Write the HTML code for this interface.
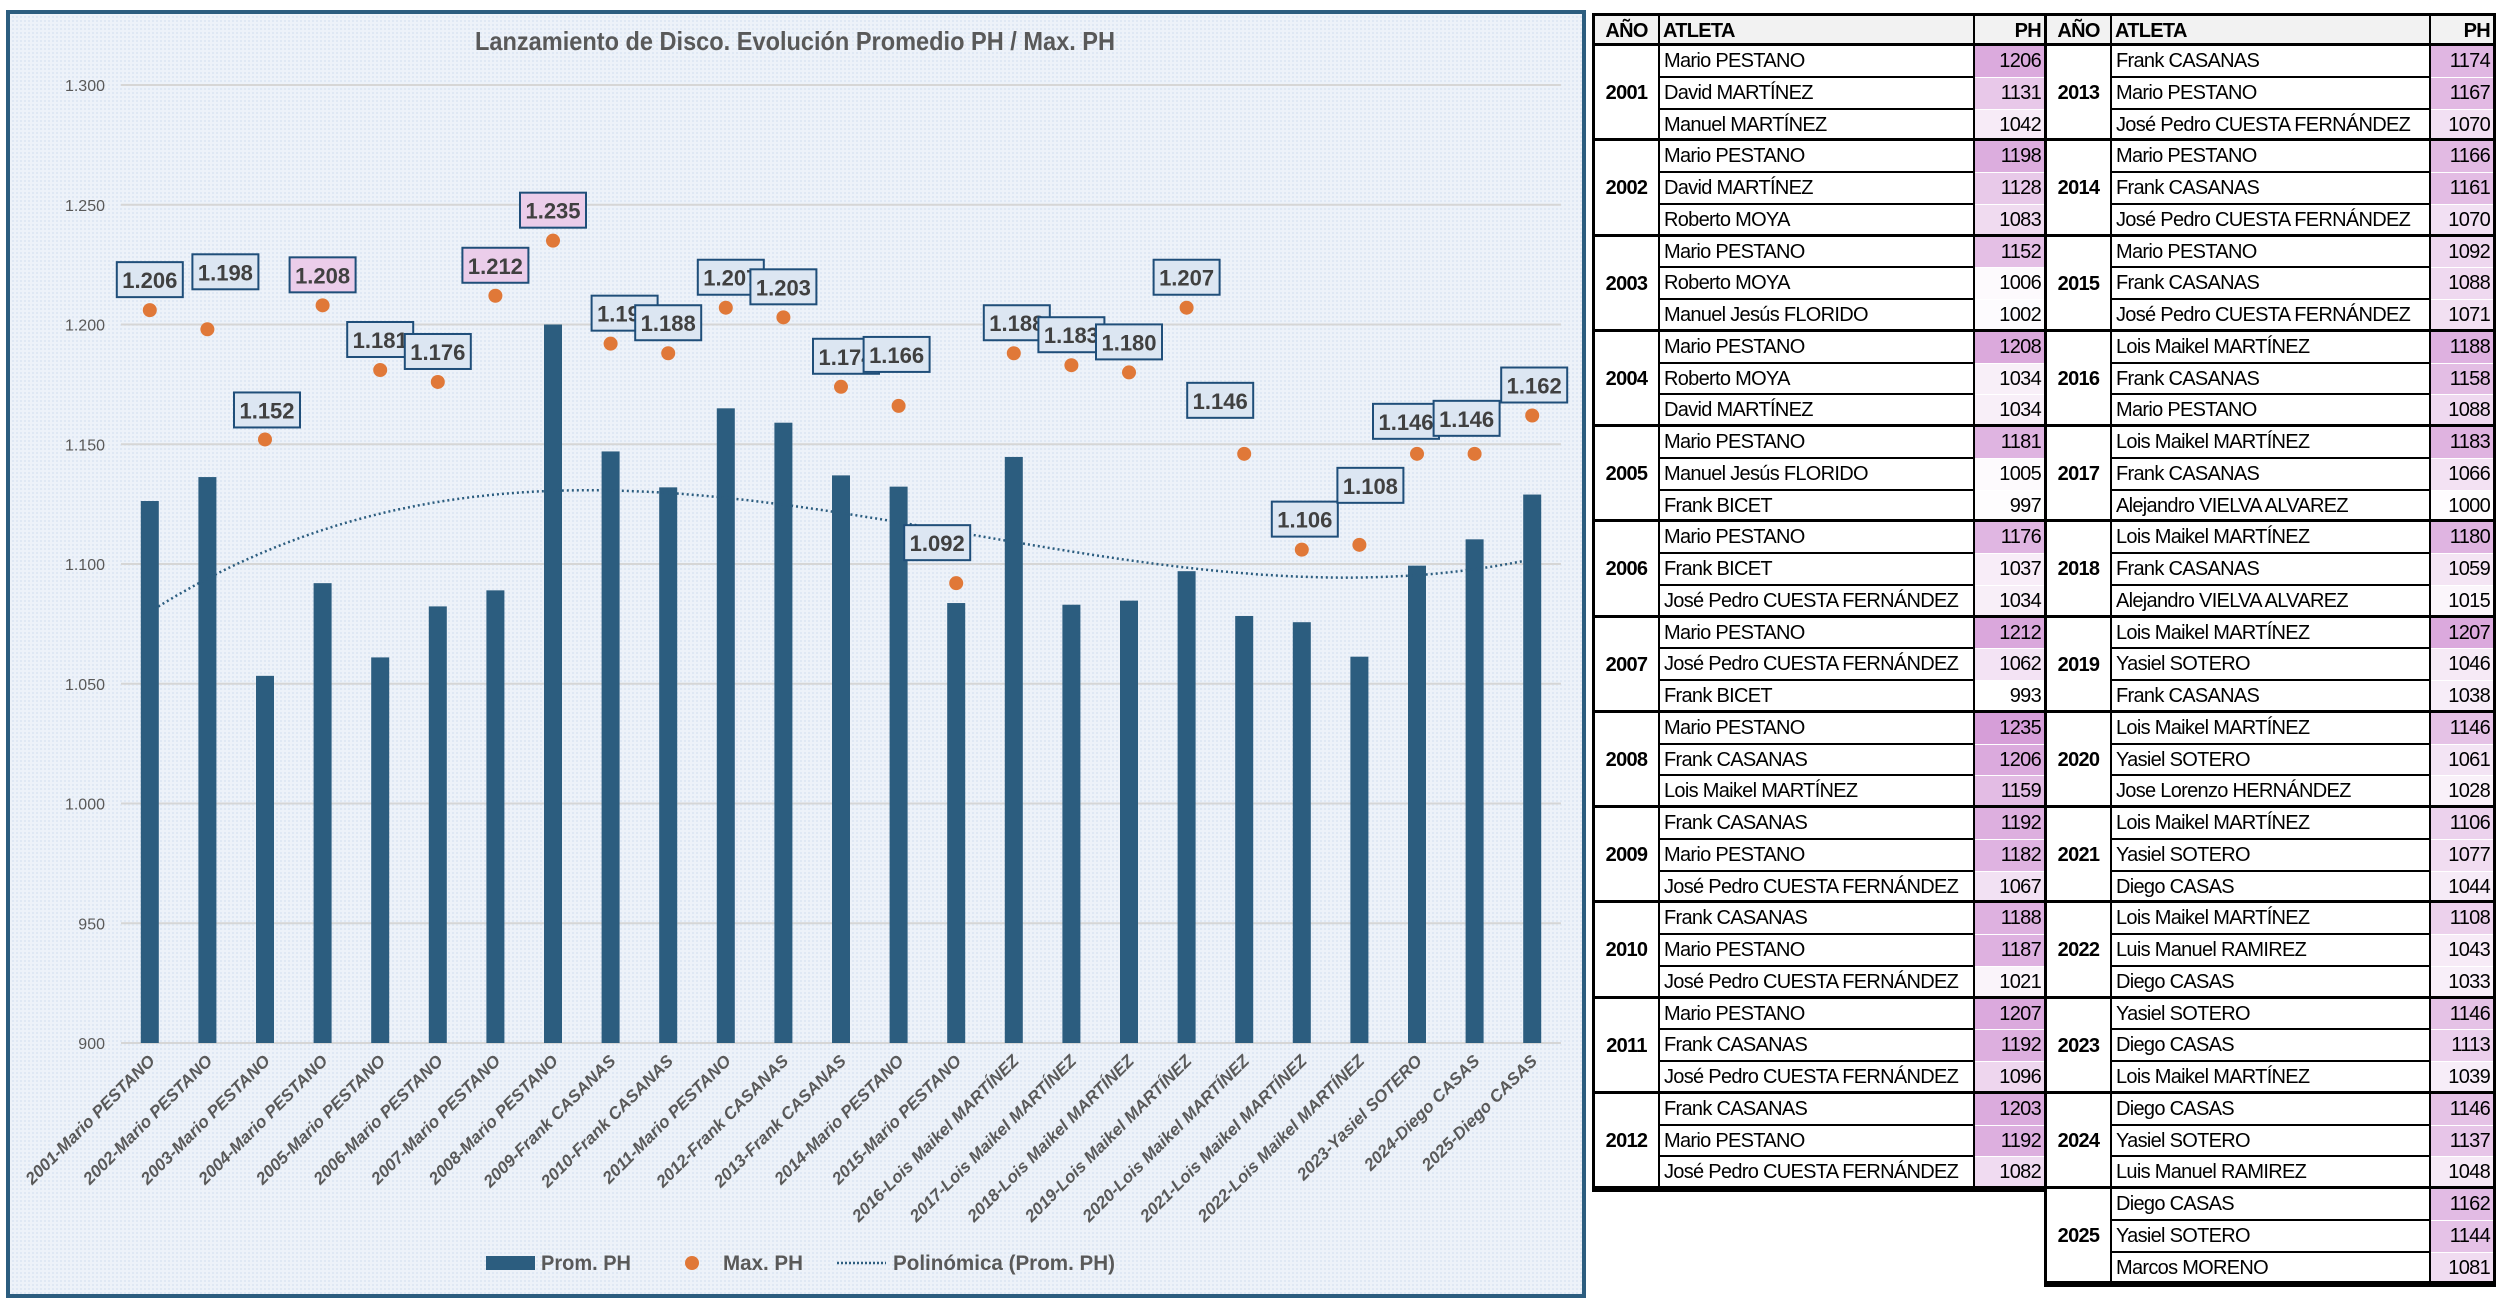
<!DOCTYPE html>
<html><head><meta charset="utf-8">
<style>
body{margin:0;width:2500px;height:1302px;background:#fff;overflow:hidden;position:relative;font-family:"Liberation Sans Narrow","Liberation Sans",sans-serif;}
#chart{position:absolute;left:0;top:0;}
.tbl{position:absolute;border:3px solid #000;box-sizing:border-box;background:#fff;}
.cell{position:absolute;box-sizing:border-box;font-size:20px;letter-spacing:-0.7px;color:#000;line-height:30px;white-space:nowrap;overflow:hidden;}
</style></head><body>
<svg id="chart" width="1600" height="1302">
<defs>
<pattern id="dots" width="4" height="4" patternUnits="userSpaceOnUse"><rect width="4" height="4" fill="#edf2f9"/><rect width="2" height="2" fill="#dfe8f4"/></pattern>
</defs>
<rect x="8" y="12" width="1576" height="1284" fill="url(#dots)" stroke="#2c5d7f" stroke-width="4"/>
<text x="795" y="50" text-anchor="middle" font-size="26" font-weight="bold" fill="#595959" textLength="640" lengthAdjust="spacingAndGlyphs">Lanzamiento de Disco. Evolución Promedio PH / Max. PH</text>
<g id="grid"></g><g id="bars"></g><g id="trend"></g><g id="dotsG"></g><g id="labels"></g><g id="xlab"></g>
<g>
<rect x="486" y="1256" width="49" height="14" fill="#2c5d7f"/>
<text x="541" y="1270" font-size="21" font-weight="bold" fill="#595959" textLength="90" lengthAdjust="spacingAndGlyphs">Prom. PH</text>
<circle cx="692" cy="1263" r="7" fill="#e07838"/>
<text x="723" y="1270" font-size="21" font-weight="bold" fill="#595959" textLength="80" lengthAdjust="spacingAndGlyphs">Max. PH</text>
<line x1="837" y1="1263" x2="886" y2="1263" stroke="#2c5d7f" stroke-width="2.5" stroke-dasharray="2 2"/>
<text x="893" y="1270" font-size="21" font-weight="bold" fill="#595959" textLength="222" lengthAdjust="spacingAndGlyphs">Polinómica (Prom. PH)</text>
</g>
</svg>
<div id="tables"></div>
<script>
const years=[2001,2002,2003,2004,2005,2006,2007,2008,2009,2010,2011,2012,2013,2014,2015,2016,2017,2018,2019,2020,2021,2022,2023,2024,2025];
const categories=["2001-Mario PESTANO","2002-Mario PESTANO","2003-Mario PESTANO","2004-Mario PESTANO","2005-Mario PESTANO","2006-Mario PESTANO","2007-Mario PESTANO","2008-Mario PESTANO","2009-Frank CASANAS","2010-Frank CASANAS","2011-Mario PESTANO","2012-Frank CASANAS","2013-Frank CASANAS","2014-Mario PESTANO","2015-Mario PESTANO","2016-Lois Maikel MARTÍNEZ","2017-Lois Maikel MARTÍNEZ","2018-Lois Maikel MARTÍNEZ","2019-Lois Maikel MARTÍNEZ","2020-Lois Maikel MARTÍNEZ","2021-Lois Maikel MARTÍNEZ","2022-Lois Maikel MARTÍNEZ","2023-Yasiel SOTERO","2024-Diego CASAS","2025-Diego CASAS"];
const athletes=[["Mario PESTANO","David MARTÍNEZ","Manuel MARTÍNEZ"],["Mario PESTANO","David MARTÍNEZ","Roberto MOYA"],["Mario PESTANO","Roberto MOYA","Manuel Jesús FLORIDO"],["Mario PESTANO","Roberto MOYA","David MARTÍNEZ"],["Mario PESTANO","Manuel Jesús FLORIDO","Frank BICET"],["Mario PESTANO","Frank BICET","José Pedro CUESTA FERNÁNDEZ"],["Mario PESTANO","José Pedro CUESTA FERNÁNDEZ","Frank BICET"],["Mario PESTANO","Frank CASANAS","Lois Maikel MARTÍNEZ"],["Frank CASANAS","Mario PESTANO","José Pedro CUESTA FERNÁNDEZ"],["Frank CASANAS","Mario PESTANO","José Pedro CUESTA FERNÁNDEZ"],["Mario PESTANO","Frank CASANAS","José Pedro CUESTA FERNÁNDEZ"],["Frank CASANAS","Mario PESTANO","José Pedro CUESTA FERNÁNDEZ"],["Frank CASANAS","Mario PESTANO","José Pedro CUESTA FERNÁNDEZ"],["Mario PESTANO","Frank CASANAS","José Pedro CUESTA FERNÁNDEZ"],["Mario PESTANO","Frank CASANAS","José Pedro CUESTA FERNÁNDEZ"],["Lois Maikel MARTÍNEZ","Frank CASANAS","Mario PESTANO"],["Lois Maikel MARTÍNEZ","Frank CASANAS","Alejandro VIELVA ALVAREZ"],["Lois Maikel MARTÍNEZ","Frank CASANAS","Alejandro VIELVA ALVAREZ"],["Lois Maikel MARTÍNEZ","Yasiel SOTERO","Frank CASANAS"],["Lois Maikel MARTÍNEZ","Yasiel SOTERO","Jose Lorenzo HERNÁNDEZ"],["Lois Maikel MARTÍNEZ","Yasiel SOTERO","Diego CASAS"],["Lois Maikel MARTÍNEZ","Luis Manuel RAMIREZ","Diego CASAS"],["Yasiel SOTERO","Diego CASAS","Lois Maikel MARTÍNEZ"],["Diego CASAS","Yasiel SOTERO","Luis Manuel RAMIREZ"],["Diego CASAS","Yasiel SOTERO","Marcos MORENO"]];
const marks=[[1206,1131,1042],[1198,1128,1083],[1152,1006,1002],[1208,1034,1034],[1181,1005,997],[1176,1037,1034],[1212,1062,993],[1235,1206,1159],[1192,1182,1067],[1188,1187,1021],[1207,1192,1096],[1203,1192,1082],[1174,1167,1070],[1166,1161,1070],[1092,1088,1071],[1188,1158,1088],[1183,1066,1000],[1180,1059,1015],[1207,1046,1038],[1146,1061,1028],[1106,1077,1044],[1108,1043,1033],[1146,1113,1039],[1146,1137,1048],[1162,1144,1081]];
const promPH=[1126.3,1136.3,1053.3,1092,1061,1082.3,1089,1200,1147,1132,1165,1159,1137,1132.3,1083.7,1144.7,1083,1084.7,1097,1078.3,1075.7,1061.3,1099.3,1110.3,1129];
const maxPH=[1206,1198,1152,1208,1181,1176,1212,1235,1192,1188,1207,1203,1174,1166,1092,1188,1183,1180,1207,1146,1106,1108,1146,1146,1162];
const yTicks=[900,950,1000,1050,1100,1150,1200,1250,1300];
const highlighted=[2004,2007,2008];
// label layout nudges (pixels, layout only)
const lblDX=[0,18,2,0,0,0,0,0,14,0,5,0,5,-2,-19,3,0,0,0,-24,3,11,-11,-8,2];
const lblDY=[-30,-57,-29,-30,-30,-30,-30,-30,-30,-30,-30,-30,-30,-51,-40,-30,-30,-30,-30,-53,-30,-59,-32,-35,-30];

const NS="http://www.w3.org/2000/svg";
const X0=121,X1=1561,Y0=1043,Y1=85,VMIN=900,VMAX=1300;
const step=(X1-X0)/categories.length;
function xs(i){return X0+step*(i+0.5);}
function ys(v){return Y0-(v-VMIN)*(Y0-Y1)/(VMAX-VMIN);}
function fmt(v){const s=String(Math.round(v));return s.length>3?s.slice(0,s.length-3)+"."+s.slice(-3):s;}
function mk(tag,attrs,parent){const e=document.createElementNS(NS,tag);for(const k in attrs)e.setAttribute(k,attrs[k]);parent.appendChild(e);return e;}

const grid=document.getElementById('grid');
yTicks.forEach(t=>{
  const l=mk('line',{x1:X0,x2:X1,y1:ys(t),y2:ys(t),stroke:'#d6d6d6','stroke-width':2},grid);
  
  
  const tx=mk('text',{x:105,y:ys(t)+6,'text-anchor':'end','font-size':16,fill:'#595959'},grid);
  tx.textContent=fmt(t);
  
  
});
const bars=document.getElementById('bars');
promPH.forEach((v,i)=>{
  const r=mk('rect',{x:xs(i)-9,y:ys(v),width:18,height:Y0-ys(v),fill:'#2c5d7f'},bars);
  
  
});
// cubic polynomial trendline fit
(function(){
  const n=promPH.length,deg=3;const A=[],b=[];
  for(let r=0;r<=deg;r++){A.push([]);for(let c=0;c<=deg;c++){let s=0;for(let i=0;i<n;i++)s+=Math.pow(i+1,r+c);A[r].push(s);}let s=0;for(let i=0;i<n;i++)s+=promPH[i]*Math.pow(i+1,r);b.push(s);}
  for(let p=0;p<=deg;p++){for(let r=p+1;r<=deg;r++){const f=A[r][p]/A[p][p];for(let c=p;c<=deg;c++)A[r][c]-=f*A[p][c];b[r]-=f*b[p];}}
  const co=new Array(deg+1).fill(0);
  for(let r=deg;r>=0;r--){let s=b[r];for(let c=r+1;c<=deg;c++)s-=A[r][c]*co[c];co[r]=s/A[r][r];}
  let d="";
  for(let t=0;t<=200;t++){const xi=(n-1)*t/200;const xv=xi+1;let v=0;for(let k=0;k<=deg;k++)v+=co[k]*Math.pow(xv,k);d+=(t?"L":"M")+(X0+step*(xi+0.5)).toFixed(1)+","+ys(v).toFixed(1);}
  const p=mk('path',{d:d,fill:'none',stroke:'#2c5d7f','stroke-width':2.5,'stroke-dasharray':'2 3'},document.getElementById('trend'));
  
  
})();
const dg=document.getElementById('dotsG'),lg=document.getElementById('labels');
maxPH.forEach((v,i)=>{
  const c=mk('circle',{cx:xs(i),cy:ys(v),r:7,fill:'#e07838'},dg);
  
  
});
maxPH.forEach((v,i)=>{
  const cx=xs(i)+lblDX[i],cy=ys(v)+lblDY[i];
  const g=mk('g',{},lg);
  
  
  mk('rect',{x:cx-33,y:cy-18,width:66,height:35,fill:highlighted.includes(years[i])?'#ebcdea':'#dce6f2',stroke:'#1f4e79','stroke-width':2},g);
  const t=mk('text',{x:cx,y:cy+8,'text-anchor':'middle','font-size':22,'font-weight':'bold',fill:'#404040'},g);
  t.textContent=fmt(v);
});
const xl=document.getElementById('xlab');
categories.forEach((c,i)=>{
  const t=mk('text',{x:0,y:0,'text-anchor':'end','font-size':17,'font-weight':'bold','font-style':'italic',fill:'#595959',transform:'translate('+(xs(i)+6)+',1062) rotate(-45)'},xl);
  t.textContent=c;
  
  
});

// tables
function phColor(v){const t=Math.max(0,Math.min(1,(v-993)/(1235-993)));const a=[255,255,255],z=[214,158,216];return 'rgb('+a.map((x,k)=>Math.round(x+(z[k]-x)*t)).join(',')+')';}
const tw=document.getElementById('tables');
function buildTable(x,w,cols,fromIdx,toIdx,name){
  const rowH=31.75,headH=30;
  const nrows=(toIdx-fromIdx)*3;
  const tb=document.createElement('div');
  tb.className='tbl';
  tb.style.left=x+'px';tb.style.top='13px';tb.style.width=w+'px';tb.style.height=(headH+nrows*rowH+6)+'px';
  
  
  tw.appendChild(tb);
  const cx=[0,cols[0],cols[0]+cols[1]];
  const heads=["AÑO","ATLETA","PH"];
  heads.forEach((h,k)=>{
    const d=document.createElement('div');d.className='cell';
    d.style.left=cx[k]+'px';d.style.top='0px';d.style.width=cols[k]+'px';d.style.height=headH+'px';
    d.style.background='#f2f2f2';d.style.fontWeight='bold';d.style.borderBottom='3px solid #000';
    d.style.borderRight=k<2?'2px solid #000':'none';
    d.style.textAlign=k==2?'right':(k==0?'center':'left');d.style.padding='0 3px';
    d.textContent=h;
    
    
    tb.appendChild(d);
  });
  for(let yi=fromIdx;yi<toIdx;yi++){
    const top=headH+(yi-fromIdx)*3*rowH;
    const yc=document.createElement('div');yc.className='cell';
    yc.style.left='0px';yc.style.top=top+'px';yc.style.width=cols[0]+'px';yc.style.height=(3*rowH)+'px';
    yc.style.lineHeight=(3*rowH)+'px';yc.style.textAlign='center';yc.style.fontWeight='bold';
    yc.style.borderRight='2px solid #000';yc.style.borderBottom='3px solid #000';
    yc.textContent=years[yi];
    
    
    tb.appendChild(yc);
    for(let r=0;r<3;r++){
      const rt=top+r*rowH;
      const a=document.createElement('div');a.className='cell';
      a.style.left=cx[1]+'px';a.style.top=rt+'px';a.style.width=cols[1]+'px';a.style.height=rowH+'px';
      a.style.padding='0 4px';a.style.borderRight='2px solid #000';a.style.borderBottom=(r==2?'3px':'2.5px')+' solid #000';
      a.textContent=athletes[yi][r];
      
      
      tb.appendChild(a);
      const p=document.createElement('div');p.className='cell';
      p.style.left=cx[2]+'px';p.style.top=rt+'px';p.style.width=cols[2]+'px';p.style.height=rowH+'px';
      p.style.textAlign='right';p.style.padding='0 3px';p.style.background=phColor(marks[yi][r]);
      p.style.borderBottom=r==2?'3px solid #000':'1px solid #fff';
      p.textContent=marks[yi][r];
      
      
      tb.appendChild(p);
    }
  }
}
buildTable(1592,455,[65,315,69],0,12,'results-table-left');
buildTable(2044,452,[65,319,62],12,25,'results-table-right');
</script>
</body></html>
